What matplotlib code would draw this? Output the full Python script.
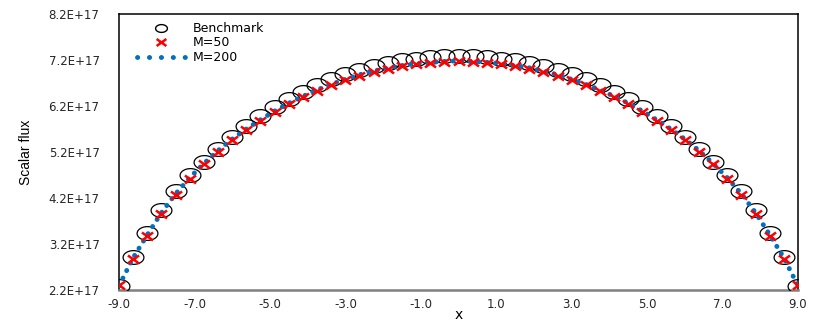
import numpy as np
import matplotlib
matplotlib.use("Agg")
import matplotlib.pyplot as plt
from matplotlib.path import Path
from matplotlib.lines import Line2D

# 49 points across the slab
x_vals = np.linspace(-9.0, 9.0, 49)

# scalar flux, units of 1e17
benchmark = [
    2.29, 2.92, 3.44, 3.94, 4.35, 4.69, 4.99, 5.27, 5.53, 5.77, 5.98, 6.17,
    6.35, 6.51, 6.65, 6.78, 6.89, 6.99, 7.07, 7.14, 7.19, 7.23, 7.26, 7.28,
    7.29,
    7.28, 7.26, 7.23, 7.19, 7.14, 7.07, 6.99, 6.89, 6.78, 6.65, 6.51, 6.35,
    6.17, 5.98, 5.77, 5.53, 5.27, 4.99, 4.69, 4.35, 3.94, 3.44, 2.92, 2.29,
]
m50 = [
    2.30, 2.88, 3.38, 3.86, 4.27, 4.62, 4.93, 5.21, 5.46, 5.68, 5.88, 6.07,
    6.24, 6.39, 6.53, 6.65, 6.76, 6.86, 6.94, 7.01, 7.07, 7.11, 7.14, 7.16,
    7.17,
    7.16, 7.14, 7.11, 7.07, 7.01, 6.94, 6.86, 6.76, 6.65, 6.53, 6.39, 6.24,
    6.07, 5.88, 5.68, 5.46, 5.21, 4.93, 4.62, 4.27, 3.86, 3.38, 2.88, 2.30,
]
m200 = [
    2.29, 2.90, 3.40, 3.88, 4.29, 4.64, 4.95, 5.23, 5.48, 5.70, 5.90, 6.09,
    6.26, 6.41, 6.55, 6.67, 6.78, 6.88, 6.96, 7.03, 7.08, 7.12, 7.15, 7.17,
    7.18,
    7.17, 7.15, 7.12, 7.08, 7.03, 6.96, 6.88, 6.78, 6.67, 6.55, 6.41, 6.26,
    6.09, 5.90, 5.70, 5.48, 5.23, 4.95, 4.64, 4.29, 3.88, 3.40, 2.90, 2.29,
]

x_ticks = [-9.0, -7.0, -5.0, -3.0, -1.0, 1.0, 3.0, 5.0, 7.0, 9.0]
x_ticklabels = ["-9.0", "-7.0", "-5.0", "-3.0", "-1.0", "1.0", "3.0", "5.0", "7.0", "9.0"]
y_ticks = [2.2e17, 3.2e17, 4.2e17, 5.2e17, 6.2e17, 7.2e17, 8.2e17]
y_ticklabels = ["2.2E+17", "3.2E+17", "4.2E+17", "5.2E+17", "6.2E+17", "7.2E+17", "8.2E+17"]

BLUE = "#0070C0"


def ellipse_marker(ratio=0.66):
    t = np.linspace(0, 2 * np.pi, 64)
    return Path(np.column_stack([np.cos(t), ratio * np.sin(t)]), closed=True)


def cross_marker(ratio=0.72):
    verts = [(-1, -ratio), (1, ratio), (-1, ratio), (1, -ratio)]
    codes = [Path.MOVETO, Path.LINETO, Path.MOVETO, Path.LINETO]
    return Path(verts, codes)


def main():
    fig = plt.figure(figsize=(8.3, 3.24), dpi=100)
    ax = fig.add_axes([119 / 830, 34 / 324, 679 / 830, 276 / 324])

    scale = 1e17
    ax.plot(x_vals, np.array(benchmark) * scale, ls="none",
            marker=ellipse_marker(), ms=15, mfc="none", mec="black", mew=0.9,
            zorder=3)
    ax.plot(x_vals, np.array(m200) * scale, color=BLUE, lw=3.5,
            dashes=(0.05, 1.7), dash_capstyle="round", zorder=4)
    ax.plot(x_vals, np.array(m50) * scale, ls="none",
            marker=cross_marker(), ms=8, mfc="none", mec="#FF0000", mew=1.8,
            zorder=5)

    ax.set_xlim(-9, 9)
    ax.set_ylim(2.2e17, 8.2e17)
    ax.set_xticks(x_ticks)
    ax.set_xticklabels(x_ticklabels)
    ax.set_yticks(y_ticks)
    ax.set_yticklabels(y_ticklabels)
    ax.tick_params(axis="both", length=0, labelsize=8.5, colors="#262626")
    ax.tick_params(axis="y", pad=14)
    ax.tick_params(axis="x", pad=6)

    for side in ("left", "top", "right"):
        ax.spines[side].set_color("black")
        ax.spines[side].set_linewidth(1.1)
    ax.spines["bottom"].set_color("#808080")
    ax.spines["bottom"].set_linewidth(1.8)

    ax.set_xlabel("x", fontsize=10, labelpad=0)
    ax.xaxis.set_label_coords(0.5, -0.065)
    ax.set_ylabel("Scalar flux", fontsize=10,
                  family=["Liberation Sans Narrow", "Liberation Sans"])
    ax.yaxis.set_label_coords(-0.127, 0.5)

    handles = [
        Line2D([], [], ls="none", marker=ellipse_marker(), ms=8.5, mfc="none",
               mec="black", mew=1.0),
        Line2D([], [], ls="none", marker=cross_marker(), ms=7, mfc="none",
               mec="#FF0000", mew=1.8),
        Line2D([], [], color=BLUE, lw=3.5, dashes=(0.05, 2.4),
               dash_capstyle="round"),
    ]
    ax.legend(handles, ["Benchmark", "M=50", "M=200"], loc="upper left",
              bbox_to_anchor=(137 / 830, 1 - 22 / 324),
              bbox_transform=fig.transFigure, frameon=False, fontsize=9,
              borderpad=0, borderaxespad=0, handlelength=3.9,
              handletextpad=0.6, labelspacing=0.12)

    fig.savefig("out.png", dpi=100)


if __name__ == "__main__":
    main()
